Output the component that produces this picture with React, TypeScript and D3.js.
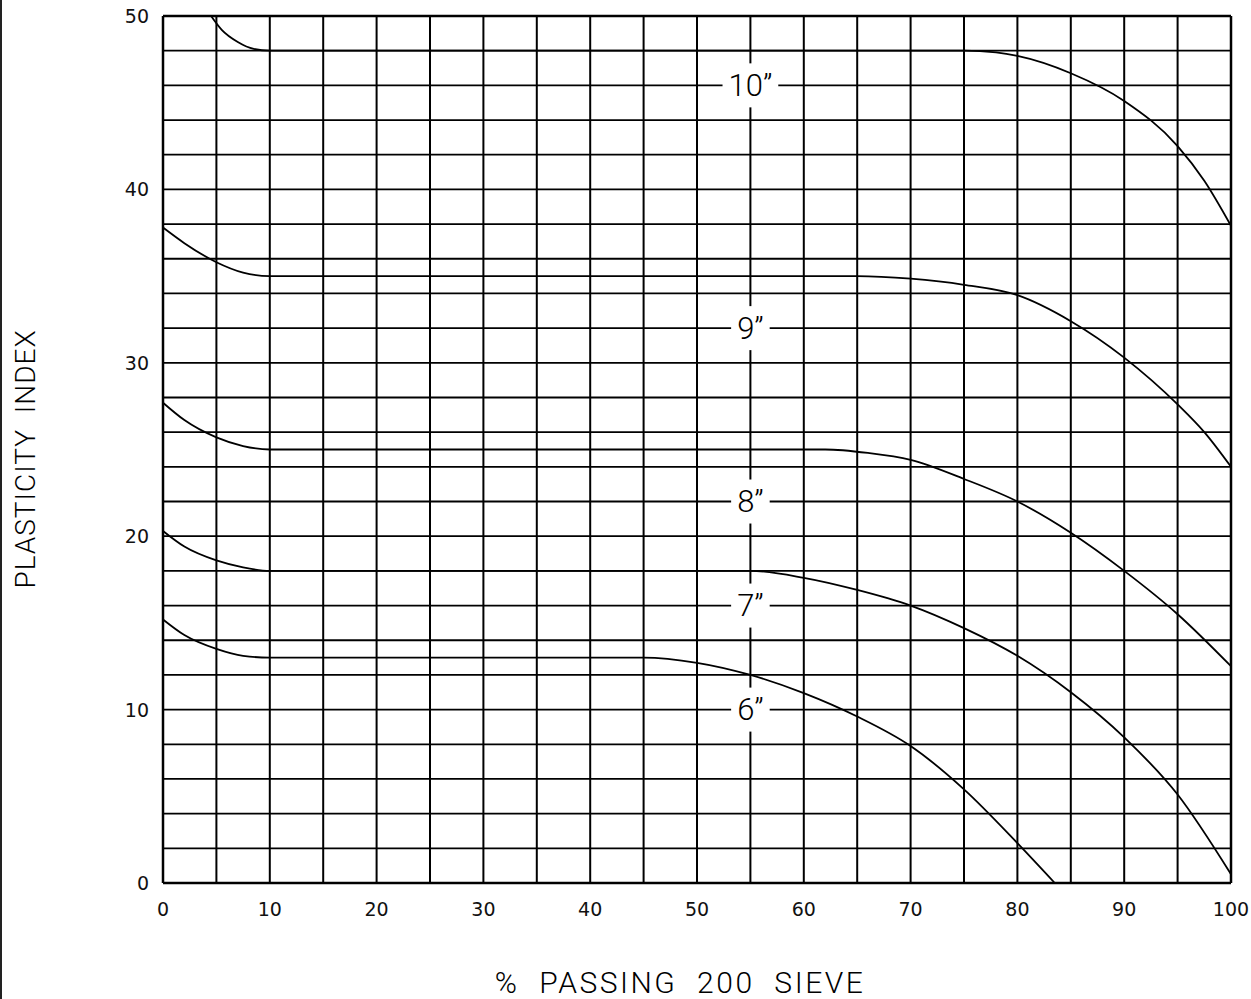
import React, { useEffect, useRef } from 'react';
import * as d3 from 'd3';

// axis ticks
const xTicks = [0, 10, 20, 30, 40, 50, 60, 70, 80, 90, 100];
const yTicks = [0, 10, 20, 30, 40, 50];

// curve points: [% passing 200 sieve, plasticity index]
const curve10: [number, number][] = [
  [4.5, 50], [5.5, 49.2], [7, 48.5], [8.5, 48.1], [10, 48], [40, 48], [75, 48],
  [78, 47.9], [80, 47.7], [85, 46.7], [90, 45.1], [95, 42.5], [97.5, 40.5], [100, 37.9],
];
const curve9: [number, number][] = [
  [0, 37.8], [2, 36.9], [5, 35.8], [7.5, 35.2], [10, 35], [40, 35], [65, 35],
  [70, 34.85], [75, 34.5], [80, 33.9], [85, 32.4], [90, 30.3], [95, 27.6], [97.5, 26], [100, 24],
];
const curve8: [number, number][] = [
  [0, 27.7], [2, 26.7], [5, 25.7], [7.5, 25.2], [10, 25], [40, 25], [62, 25],
  [66, 24.8], [70, 24.4], [75, 23.3], [80, 22], [85, 20.2], [90, 18], [95, 15.5], [100, 12.5],
];
const curve7: [number, number][] = [
  [0, 20.3], [2, 19.4], [5, 18.6], [7.5, 18.2], [10, 18], [40, 18], [55, 18],
  [60, 17.6], [65, 16.9], [70, 16], [75, 14.7], [80, 13.1], [85, 11], [90, 8.4], [95, 5.1], [100, 0.5],
];
const curve6: [number, number][] = [
  [0, 15.2], [2, 14.3], [5, 13.5], [7.5, 13.1], [10, 13], [30, 13], [45, 13],
  [50, 12.7], [55, 12], [60, 10.95], [65, 9.6], [70, 7.9], [75, 5.4], [80, 2.3], [83.5, 0],
];
const curves = [curve10, curve9, curve8, curve7, curve6];

// labels sit on grid crossings at x = 55
const labelTexts = ['10\u201d', '9\u201d', '8\u201d', '7\u201d', '6\u201d'];
const labelY = [46, 32, 22, 16, 10];
const labelX = 55;

const thinFont = 'Roboto, Liberation Sans, sans-serif';
const tickFont = 'DejaVu Sans, Liberation Sans, sans-serif';

const App = () => {
  const ref = useRef<SVGSVGElement>(null);

  useEffect(() => {
    const svg = d3.select(ref.current);
    svg.selectAll('*').remove();

    const x = d3.scaleLinear().domain([0, 100]).range([163, 1231]);
    const y = d3.scaleLinear().domain([0, 50]).range([883, 16]);

    // frame line at far left
    svg.append('line')
      .attr('x1', 1).attr('x2', 1).attr('y1', 0).attr('y2', 999)
      .attr('stroke', '#222').attr('stroke-width', 2);

    const g = svg.append('g');

    // vertical grid every 5
    g.selectAll('.vg')
      .data(d3.range(0, 101, 5))
      .join('line')
      .attr('x1', d => x(d)).attr('x2', d => x(d))
      .attr('y1', y(0)).attr('y2', y(50))
      .attr('stroke', '#000')
      .attr('stroke-width', d => (d === 0 || d === 100 ? 2.5 : 2));

    // horizontal grid every 2
    g.selectAll('.hg')
      .data(d3.range(0, 51, 2))
      .join('line')
      .attr('x1', x(0)).attr('x2', x(100))
      .attr('y1', d => y(d)).attr('y2', d => y(d))
      .attr('stroke', '#000')
      .attr('stroke-width', d => (d === 0 || d === 50 ? 2.5 : 1.8));

    // curves
    const line = d3.line<[number, number]>()
      .x(d => x(d[0]))
      .y(d => y(d[1]))
      .curve(d3.curveMonotoneX);

    g.selectAll('.curve')
      .data(curves)
      .join('path')
      .attr('fill', 'none')
      .attr('stroke', '#000')
      .attr('stroke-width', 1.8)
      .attr('d', d => line(d));

    // curve labels with white boxes over the grid
    labelTexts.forEach((t, i) => {
      const lg = g.append('g');
      const txt = lg.append('text')
        .attr('x', x(labelX))
        .attr('y', y(labelY[i]))
        .attr('text-anchor', 'middle')
        .attr('dominant-baseline', 'central')
        .attr('font-family', thinFont)
        .attr('font-weight', 300)
        .attr('font-size', 31)
        .attr('fill', '#000')
        .text(t);
      const bb = (txt.node() as SVGTextElement).getBBox();
      lg.insert('rect', 'text')
        .attr('x', bb.x - 6)
        .attr('y', y(labelY[i]) - 22)
        .attr('width', bb.width + 12)
        .attr('height', 44)
        .attr('fill', '#fff');
    });

    // tick labels
    svg.selectAll('.xt')
      .data(xTicks)
      .join('text')
      .attr('x', d => x(d))
      .attr('y', 909)
      .attr('text-anchor', 'middle')
      .attr('dominant-baseline', 'central')
      .attr('font-family', tickFont)
      .attr('font-size', 19)
      .attr('fill', '#111')
      .text(d => d);

    svg.selectAll('.yt')
      .data(yTicks)
      .join('text')
      .attr('x', 149)
      .attr('y', d => y(d))
      .attr('text-anchor', 'end')
      .attr('dominant-baseline', 'central')
      .attr('font-family', tickFont)
      .attr('font-size', 19)
      .attr('fill', '#111')
      .text(d => d);

    // axis titles
    svg.append('text')
      .attr('x', 680)
      .attr('y', 993)
      .attr('text-anchor', 'middle')
      .attr('font-family', thinFont)
      .attr('font-weight', 300)
      .attr('font-size', 30)
      .attr('letter-spacing', 2.5)
      .attr('word-spacing', 10)
      .text('% PASSING 200 SIEVE');

    svg.append('text')
      .attr('transform', 'translate(35,459) rotate(-90)')
      .attr('text-anchor', 'middle')
      .attr('font-family', thinFont)
      .attr('font-weight', 300)
      .attr('font-size', 28)
      .attr('letter-spacing', 1)
      .attr('word-spacing', 8)
      .text('PLASTICITY INDEX');
  }, []);

  return (
    <svg
      ref={ref}
      width={1251}
      height={999}
      style={{ position: 'absolute', left: 0, top: 0, background: '#fff' }}
    />
  );
};

export default App;
